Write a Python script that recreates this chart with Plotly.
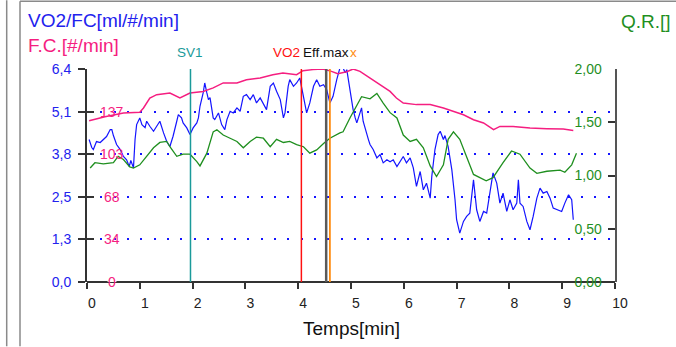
import plotly.graph_objects as go

# ---- data -------------------------------------------------------------
# VO2/FC oxygen pulse [ml/beat/min] vs time [min]
vo2fc_t = [0.04, 0.09, 0.12, 0.18, 0.25, 0.31, 0.37, 0.44, 0.47, 0.50, 0.53, 0.56, 0.63, 0.69,
           0.75, 0.80, 0.83, 0.88, 0.91, 0.94, 1.00, 1.04, 1.10, 1.13, 1.19, 1.26, 1.32, 1.38,
           1.45, 1.51, 1.57, 1.63, 1.70, 1.73, 1.79, 1.82, 1.89, 1.95, 2.01, 2.08, 2.11, 2.14,
           2.20, 2.23, 2.27, 2.30, 2.33, 2.39, 2.42, 2.49, 2.55, 2.61, 2.65, 2.71, 2.77, 2.84,
           2.90, 2.96, 3.02, 3.09, 3.15, 3.21, 3.28, 3.34, 3.40, 3.47, 3.53, 3.59, 3.66, 3.72,
           3.75, 3.81, 3.84, 3.91, 3.97, 4.03, 4.10, 4.16, 4.22, 4.29, 4.35, 4.41, 4.48, 4.54,
           4.60, 4.66, 4.73, 4.79, 4.85, 4.89, 4.92, 4.95, 4.98, 5.01, 5.04, 5.08, 5.11, 5.17,
           5.20, 5.23, 5.27, 5.33, 5.36, 5.42, 5.49, 5.55, 5.61, 5.68, 5.74, 5.80, 5.87, 5.93,
           5.99, 6.05, 6.12, 6.18, 6.24, 6.31, 6.37, 6.43, 6.50, 6.53, 6.59, 6.65, 6.69, 6.75,
           6.78, 6.84, 6.91, 6.97, 7.00, 7.06, 7.13, 7.19, 7.25, 7.32, 7.38, 7.44, 7.51, 7.57,
           7.63, 7.69, 7.76, 7.82, 7.88, 7.95, 8.01, 8.07, 8.14, 8.17, 8.20, 8.26, 8.33, 8.39,
           8.45, 8.52, 8.58, 8.64, 8.71, 8.77, 8.83, 8.90, 8.99, 9.05, 9.12, 9.18, 9.21]
vo2fc_v = [4.28, 4.04, 3.98, 4.22, 4.19, 4.28, 4.37, 4.58, 4.58, 4.40, 4.28, 4.13, 3.98, 3.77,
           3.67, 3.47, 3.65, 3.43, 4.28, 4.73, 4.93, 4.73, 4.64, 4.83, 4.68, 4.53, 4.68, 4.83,
           4.48, 4.22, 4.07, 4.38, 4.83, 5.03, 4.93, 4.78, 4.63, 4.43, 4.63, 4.78, 4.93, 5.28,
           5.68, 5.98, 5.68, 5.48, 5.54, 4.93, 4.88, 5.08, 4.73, 4.58, 4.88, 5.13, 5.08, 5.23,
           5.13, 5.58, 5.63, 5.48, 5.63, 5.38, 5.53, 5.33, 5.18, 5.88, 5.98, 5.73, 5.48, 4.93,
           5.08, 5.88, 6.08, 5.88, 5.98, 6.13, 5.58, 5.08, 5.38, 5.88, 6.08, 5.88, 5.93, 5.78,
           5.38, 5.58, 6.08, 6.43, 6.43, 6.29, 6.38, 6.08, 5.68, 5.38, 5.18, 4.93, 4.78, 5.08,
           5.23, 4.83, 4.58, 4.28, 4.13, 3.98, 3.73, 3.83, 3.58, 3.67, 3.61, 3.67, 3.47, 3.62,
           3.77, 3.58, 3.73, 3.43, 2.87, 3.32, 2.77, 2.97, 2.52, 3.17, 3.98, 4.43, 4.53, 4.28,
           4.40, 4.07, 3.37, 2.47, 1.87, 1.47, 1.82, 1.97, 2.07, 3.07, 2.17, 1.82, 2.12, 2.07,
           2.67, 3.28, 2.97, 2.37, 2.67, 2.12, 2.47, 2.17, 2.37, 3.07, 2.37, 2.27, 1.82, 1.57,
           1.97, 2.52, 2.82, 2.67, 2.72, 2.52, 2.22, 2.17, 2.12, 2.37, 2.62, 2.47, 1.87]

# heart rate F.C. [beats/min]
fc_t = [0.04, 0.34, 0.69, 1.00, 1.07, 1.19, 1.32, 1.57, 1.76, 1.89, 1.95, 2.20, 2.39, 2.58,
        2.84, 3.02, 3.28, 3.52, 3.71, 3.97, 4.09, 4.28, 4.47, 4.63, 4.75, 4.92, 5.04, 5.17,
        5.36, 5.55, 5.74, 5.86, 5.99, 6.24, 6.50, 6.75, 6.94, 7.13, 7.32, 7.51, 7.70, 7.82,
        8.07, 8.39, 8.71, 9.02, 9.21]
fc_v = [129.5, 132.7, 135.7, 136.3, 139.7, 147.7, 150.4, 151.7, 147.7, 150.4, 151.7, 153.0,
        155.8, 159.8, 159.8, 162.4, 163.8, 166.4, 167.8, 166.4, 169.6, 170.5, 171.0, 169.1,
        167.2, 168.8, 171.0, 169.1, 163.8, 158.4, 153.0, 147.7, 143.7, 142.4, 142.4, 139.7,
        137.0, 134.3, 130.3, 127.7, 122.3, 124.9, 124.9, 123.6, 123.1, 122.8, 121.7]

# respiratory quotient Q.R.
qr_t = [0.06, 0.15, 0.31, 0.50, 0.59, 0.69, 0.81, 0.88, 1.00, 1.13, 1.26, 1.38, 1.51, 1.57,
        1.70, 1.82, 1.95, 2.08, 2.14, 2.27, 2.39, 2.46, 2.58, 2.71, 2.84, 2.96, 3.09, 3.21,
        3.34, 3.47, 3.59, 3.72, 3.84, 3.97, 4.10, 4.22, 4.35, 4.48, 4.60, 4.79, 4.85, 4.98,
        5.08, 5.20, 5.36, 5.49, 5.61, 5.74, 5.87, 5.99, 6.12, 6.24, 6.37, 6.50, 6.62, 6.75,
        6.84, 6.94, 7.06, 7.19, 7.32, 7.56, 7.69, 7.88, 8.04, 8.20, 8.39, 8.52, 8.71, 8.96,
        9.05, 9.18, 9.27]
qr_v = [1.07, 1.12, 1.11, 1.12, 1.18, 1.15, 1.08, 1.07, 1.10, 1.18, 1.26, 1.31, 1.32, 1.27,
        1.18, 1.20, 1.20, 1.13, 1.09, 1.21, 1.41, 1.43, 1.38, 1.35, 1.32, 1.26, 1.32, 1.36,
        1.35, 1.27, 1.34, 1.31, 1.32, 1.29, 1.27, 1.21, 1.24, 1.30, 1.35, 1.40, 1.41, 1.54,
        1.63, 1.74, 1.72, 1.77, 1.68, 1.59, 1.54, 1.38, 1.32, 1.34, 1.26, 1.09, 0.99, 1.10,
        1.34, 1.41, 1.34, 1.18, 1.01, 0.95, 0.98, 1.12, 1.23, 1.20, 1.07, 1.02, 1.04, 1.05,
        1.03, 1.10, 1.21]

# test events (time in min)
event_names = ["SV1", "VO2", "Eff.max", "x"]
event_t = [1.96, 4.06, 4.53, 4.60]

# axis ticks
time_ticks = [0, 1, 2, 3, 4, 5, 6, 7, 8, 9, 10]
vo2fc_ticks = [0, 1.28, 2.56, 3.84, 5.12, 6.4]
vo2fc_ticktext = ["0,0", "1,3", "2,5", "3,8", "5,1", "6,4"]
qr_ticks = [0, 0.5, 1.0, 1.5, 2.0]
qr_ticktext = ["0,00", "0,50", "1,00", "1,50", "2,00"]
fc_ticks = [0, 34.2, 68.4, 102.6, 136.8]
fc_ticktext = ["0", "34", "68", "103", "137"]
fc_max = 171.0

# ---- styling ----------------------------------------------------------
FONT = "Liberation Sans, Arial, Helvetica, sans-serif"
BLUE = "#1414ff"
BLUE_TXT = "#2222ee"
PINK = "#f51e80"
GREEN = "#1f8f1f"
TEAL = "#1a9a9a"
RED = "#ff1010"
GRAY = "#5a5a5a"
ORANGE = "#ff8c10"
AXIS = "#333333"

W, H = 676, 347
ML, MR, MT, MB = 87, 61, 69, 64.5
PW, PH = W - ML - MR, H - MT - MB


def px(x):
    return (x - ML) / PW


def py(y):
    return (H - MB - y) / PH


fig = go.Figure()
fig.add_trace(go.Scatter(x=vo2fc_t, y=vo2fc_v, yaxis="y", mode="lines",
                         line=dict(color=BLUE, width=1.2), hoverinfo="skip"))
fig.add_trace(go.Scatter(x=qr_t, y=qr_v, yaxis="y2", mode="lines",
                         line=dict(color=GREEN, width=1.3), hoverinfo="skip"))
fig.add_trace(go.Scatter(x=fc_t, y=fc_v, yaxis="y3", mode="lines",
                         line=dict(color=PINK, width=1.5), hoverinfo="skip"))

shapes = []
annotations = []

# x axis base line, kept under the dotted grid row at 0
shapes.append(dict(type="line", xref="paper", yref="paper", x0=0, x1=1, y0=0, y1=0,
                   line=dict(color=AXIS, width=2), layer="below"))

# F.C. scale labels on white pads (pads sit under the curves)
pad_h = 7.0 / PH * fc_max
for v, txt in zip(fc_ticks, fc_ticktext):
    half = len(txt) * 3.9 + 0.5
    shapes.append(dict(type="rect", xref="paper", yref="y3",
                       x0=px(112 - half), x1=px(112 + half), y0=v - pad_h, y1=v + pad_h,
                       fillcolor="white", line=dict(width=0), layer="between"))
    annotations.append(dict(x=px(112), y=v, xref="paper", yref="y3", text=txt,
                            showarrow=False, xanchor="center", yanchor="middle",
                            font=dict(family=FONT, size=14, color=PINK)))

# event markers
event_colors = [TEAL, RED, GRAY, ORANGE]
event_widths = [1.5, 1.5, 2.5, 1.8]
for t, c, w in zip(event_t, event_colors, event_widths):
    shapes.append(dict(type="line", xref="x", yref="paper", x0=t, x1=t, y0=0, y1=1,
                       line=dict(color=c, width=w)))

lab_y = py(52)
annotations.append(dict(x=event_t[0], y=lab_y, xref="x", yref="paper", text=event_names[0],
                        showarrow=False, xanchor="center", yanchor="middle",
                        font=dict(family=FONT, size=13.5, color=TEAL)))
annotations.append(dict(x=event_t[1], y=lab_y, xref="x", yref="paper", text=event_names[1],
                        showarrow=False, xanchor="right", yanchor="middle", xshift=1,
                        font=dict(family=FONT, size=13.5, color=RED)))
annotations.append(dict(x=event_t[2], y=lab_y, xref="x", yref="paper", text=event_names[2],
                        showarrow=False, xanchor="center", yanchor="middle",
                        font=dict(family=FONT, size=13.5, color="#111111")))
annotations.append(dict(x=event_t[2], y=lab_y, xref="x", yref="paper", text=event_names[3],
                        showarrow=False, xanchor="left", yanchor="middle", xshift=22,
                        font=dict(family=FONT, size=13.5, color=ORANGE)))

# titles
annotations += [
    dict(x=px(26), y=py(20.5), xref="paper", yref="paper", text="VO2/FC[ml/#/min]",
         showarrow=False, xanchor="left", yanchor="middle",
         font=dict(family=FONT, size=19, color=BLUE_TXT)),
    dict(x=px(26), y=py(45.5), xref="paper", yref="paper", text="F.C.[#/min]",
         showarrow=False, xanchor="left", yanchor="middle",
         font=dict(family=FONT, size=19, color=PINK)),
    dict(x=px(673), y=py(21), xref="paper", yref="paper", text="Q.R.[]",
         showarrow=False, xanchor="right", yanchor="middle",
         font=dict(family=FONT, size=19, color=GREEN)),
    dict(x=0.5, y=py(329), xref="paper", yref="paper", text="Temps[min]",
         showarrow=False, xanchor="center", yanchor="middle",
         font=dict(family=FONT, size=19, color="#111111")),
]

# panel frame
frame = dict(color="#8a8a8a", width=1.5)
shapes += [
    dict(type="line", xref="paper", yref="paper", x0=px(6.7), x1=px(6.7), y0=py(0), y1=py(H),
         line=frame),
    dict(type="line", xref="paper", yref="paper", x0=px(20), x1=px(20), y0=py(1), y1=py(H),
         line=frame),
    dict(type="line", xref="paper", yref="paper", x0=px(20), x1=px(W), y0=py(1), y1=py(1),
         line=frame),
]

fig.update_layout(
    width=W, height=H,
    margin=dict(l=ML, r=MR, t=MT, b=MB, pad=0),
    paper_bgcolor="white", plot_bgcolor="white",
    showlegend=False,
    font=dict(family=FONT),
    xaxis=dict(range=[0, 10], tickmode="array", tickvals=time_ticks,
               ticks="outside", ticklen=6, tickwidth=1.5, tickcolor=AXIS,
               showline=False, showgrid=False, zeroline=False,
               tickfont=dict(family=FONT, size=14, color="#222222"),
               ticklabelshift=5, ticklabelstandoff=2),
    yaxis=dict(range=[0, 6.4], tickmode="array", tickvals=vo2fc_ticks,
               ticktext=vo2fc_ticktext, ticks="outside", ticklen=7, tickwidth=1.5,
               tickcolor=AXIS, showline=True, linecolor=AXIS, linewidth=2,
               showgrid=True, gridcolor=BLUE, gridwidth=2, griddash="2px,11.35px",
               zeroline=False, tickfont=dict(family=FONT, size=14, color=BLUE_TXT),
               ticklabelstandoff=4),
    yaxis2=dict(range=[0, 2], overlaying="y", side="right", tickmode="array",
                tickvals=qr_ticks, ticktext=qr_ticktext, ticks="inside", ticklen=7,
                tickwidth=1.5, tickcolor=AXIS, ticklabelposition="inside",
                ticklabeloverflow="allow", ticklabelstandoff=6,
                showline=True, linecolor="#555555", linewidth=2, showgrid=False,
                zeroline=False, tickfont=dict(family=FONT, size=14, color=GREEN)),
    yaxis3=dict(range=[0, fc_max], overlaying="y", side="left", tickmode="array",
                tickvals=fc_ticks[1:], ticks="inside", ticklen=7, tickwidth=1.5,
                tickcolor=AXIS, showticklabels=False, showline=False, showgrid=False,
                zeroline=False),
    shapes=shapes,
    annotations=annotations,
)

fig.write_html("out.html")
